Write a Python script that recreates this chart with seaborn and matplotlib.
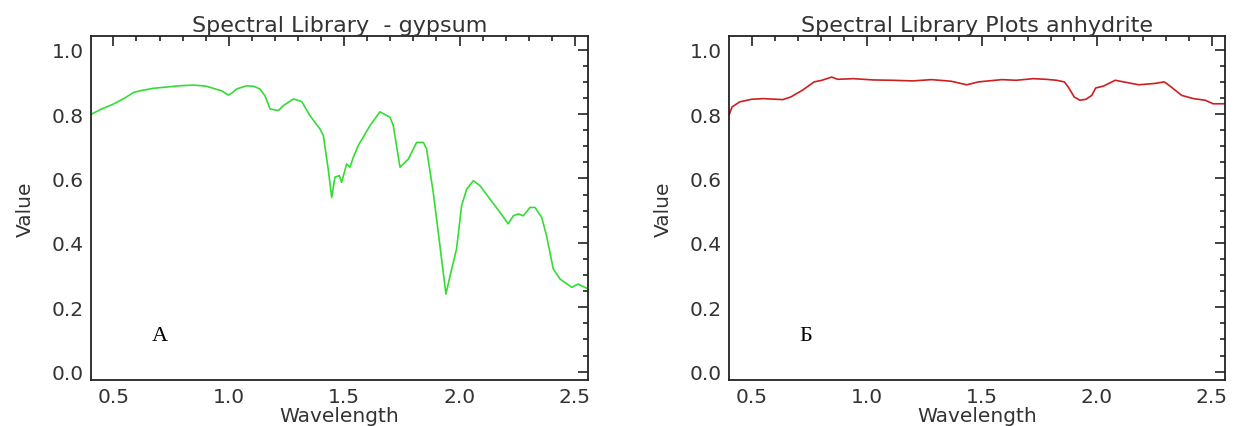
import numpy as np
import pandas as pd
import matplotlib
matplotlib.use("Agg")
import matplotlib.pyplot as plt
import seaborn as sns
from matplotlib.ticker import MultipleLocator, FormatStrFormatter

# ------ DATA ------ #

gypsum_wl = [0.406, 0.45, 0.50, 0.55, 0.587, 0.62, 0.673, 0.73, 0.789, 0.847, 0.90,
             0.933, 0.97, 0.998, 1.015, 1.034, 1.078, 1.11,
             1.135, 1.157, 1.179, 1.215, 1.236, 1.280, 1.316, 1.352, 1.395, 1.410,
             1.431, 1.446, 1.460, 1.479, 1.489, 1.511, 1.525, 1.540, 1.561, 1.612,
             1.655, 1.699, 1.713, 1.742, 1.778, 1.814, 1.843, 1.857, 1.886, 1.915,
             1.941, 1.966, 1.987, 2.009, 2.031, 2.060, 2.088, 2.132, 2.175, 2.211,
             2.233, 2.255, 2.276, 2.305, 2.327, 2.356, 2.377, 2.406, 2.435, 2.486,
             2.514, 2.551]
gypsum_val = [0.800, 0.816, 0.831, 0.850, 0.867, 0.873, 0.880, 0.884, 0.888, 0.890, 0.887,
              0.880, 0.872, 0.859, 0.866, 0.878, 0.888, 0.886,
              0.878, 0.857, 0.816, 0.811, 0.826, 0.847, 0.839, 0.795, 0.754, 0.733,
              0.629, 0.541, 0.604, 0.609, 0.588, 0.645, 0.635, 0.666, 0.702, 0.764,
              0.807, 0.790, 0.764, 0.635, 0.660, 0.712, 0.712, 0.692, 0.557, 0.391,
              0.241, 0.319, 0.381, 0.516, 0.567, 0.593, 0.578, 0.536, 0.495, 0.459,
              0.484, 0.490, 0.484, 0.510, 0.510, 0.479, 0.422, 0.319, 0.288, 0.262,
              0.272, 0.259]

anhydrite_wl = [0.402, 0.415, 0.449, 0.500, 0.551, 0.636, 0.670, 0.721, 0.772, 0.806,
                0.848, 0.874, 0.942, 1.03, 1.112, 1.20, 1.282, 1.367, 1.435, 1.486,
                1.588, 1.65, 1.724, 1.78, 1.825, 1.859, 1.876, 1.902, 1.927, 1.953,
                1.978, 1.995, 2.029, 2.080, 2.131, 2.182, 2.250, 2.293, 2.318, 2.369,
                2.420, 2.471, 2.505, 2.555]
anhydrite_val = [0.796, 0.822, 0.838, 0.846, 0.848, 0.845, 0.853, 0.874, 0.900, 0.905,
                 0.915, 0.908, 0.910, 0.906, 0.905, 0.903, 0.907, 0.902, 0.891, 0.900,
                 0.907, 0.905, 0.910, 0.908, 0.905, 0.900, 0.884, 0.853, 0.843, 0.846,
                 0.858, 0.881, 0.887, 0.905, 0.898, 0.891, 0.895, 0.900, 0.887, 0.858,
                 0.848, 0.843, 0.832, 0.832]

titles = ["Spectral Library  - gypsum", "Spectral Library Plots anhydrite"]
panel_letters = ["А", "Б"]
line_colors = ["#33dd33", "#cc2020"]

# ------ PLOT ------ #

sns.set_style("white")
plt.rcParams['font.family'] = ['DejaVu Sans']

fig = plt.figure(figsize=(12.36, 4.27), dpi=100)
ax_left = fig.add_axes([0.0734, 0.1077, 0.4026, 0.8045])
ax_right = fig.add_axes([0.5898, 0.1077, 0.4015, 0.8045])

frames = [pd.DataFrame({"Wavelength": gypsum_wl, "Value": gypsum_val}),
          pd.DataFrame({"Wavelength": anhydrite_wl, "Value": anhydrite_val})]
letter_pos = [(0.70, 0.111), (0.736, 0.111)]

for ax, df, title, letter, color, pos in zip([ax_left, ax_right], frames, titles,
                                             panel_letters, line_colors, letter_pos):
    sns.lineplot(data=df, x="Wavelength", y="Value", ax=ax, color=color, linewidth=1.2)
    ax.set_xlim(0.402, 2.558)
    ax.set_ylim(-0.026, 1.041)
    ax.xaxis.set_major_locator(MultipleLocator(0.5))
    ax.xaxis.set_minor_locator(MultipleLocator(0.1))
    ax.yaxis.set_major_locator(MultipleLocator(0.2))
    ax.yaxis.set_minor_locator(MultipleLocator(0.05))
    ax.xaxis.set_major_formatter(FormatStrFormatter("%.1f"))
    ax.yaxis.set_major_formatter(FormatStrFormatter("%.1f"))
    ax.tick_params(which="both", direction="in", top=True, right=True,
                   color="#222222", width=1.2, labelsize=14.5, labelcolor="#333333")
    ax.tick_params(which="major", length=7, pad=5)
    ax.tick_params(which="minor", length=3.5)
    for sp in ax.spines.values():
        sp.set_color("#222222")
        sp.set_linewidth(1.3)
    ax.set_title(title, fontsize=16, color="#333333", pad=4)
    ax.set_xlabel("Wavelength", fontsize=14.5, color="#333333", labelpad=0)
    ax.set_ylabel("Value", fontsize=14.5, color="#333333", labelpad=12)
    ax.text(pos[0], pos[1], letter, fontsize=16, family="Liberation Serif",
            ha="center", va="center", color="black")

fig.savefig("out.png", dpi=100, facecolor="white")
